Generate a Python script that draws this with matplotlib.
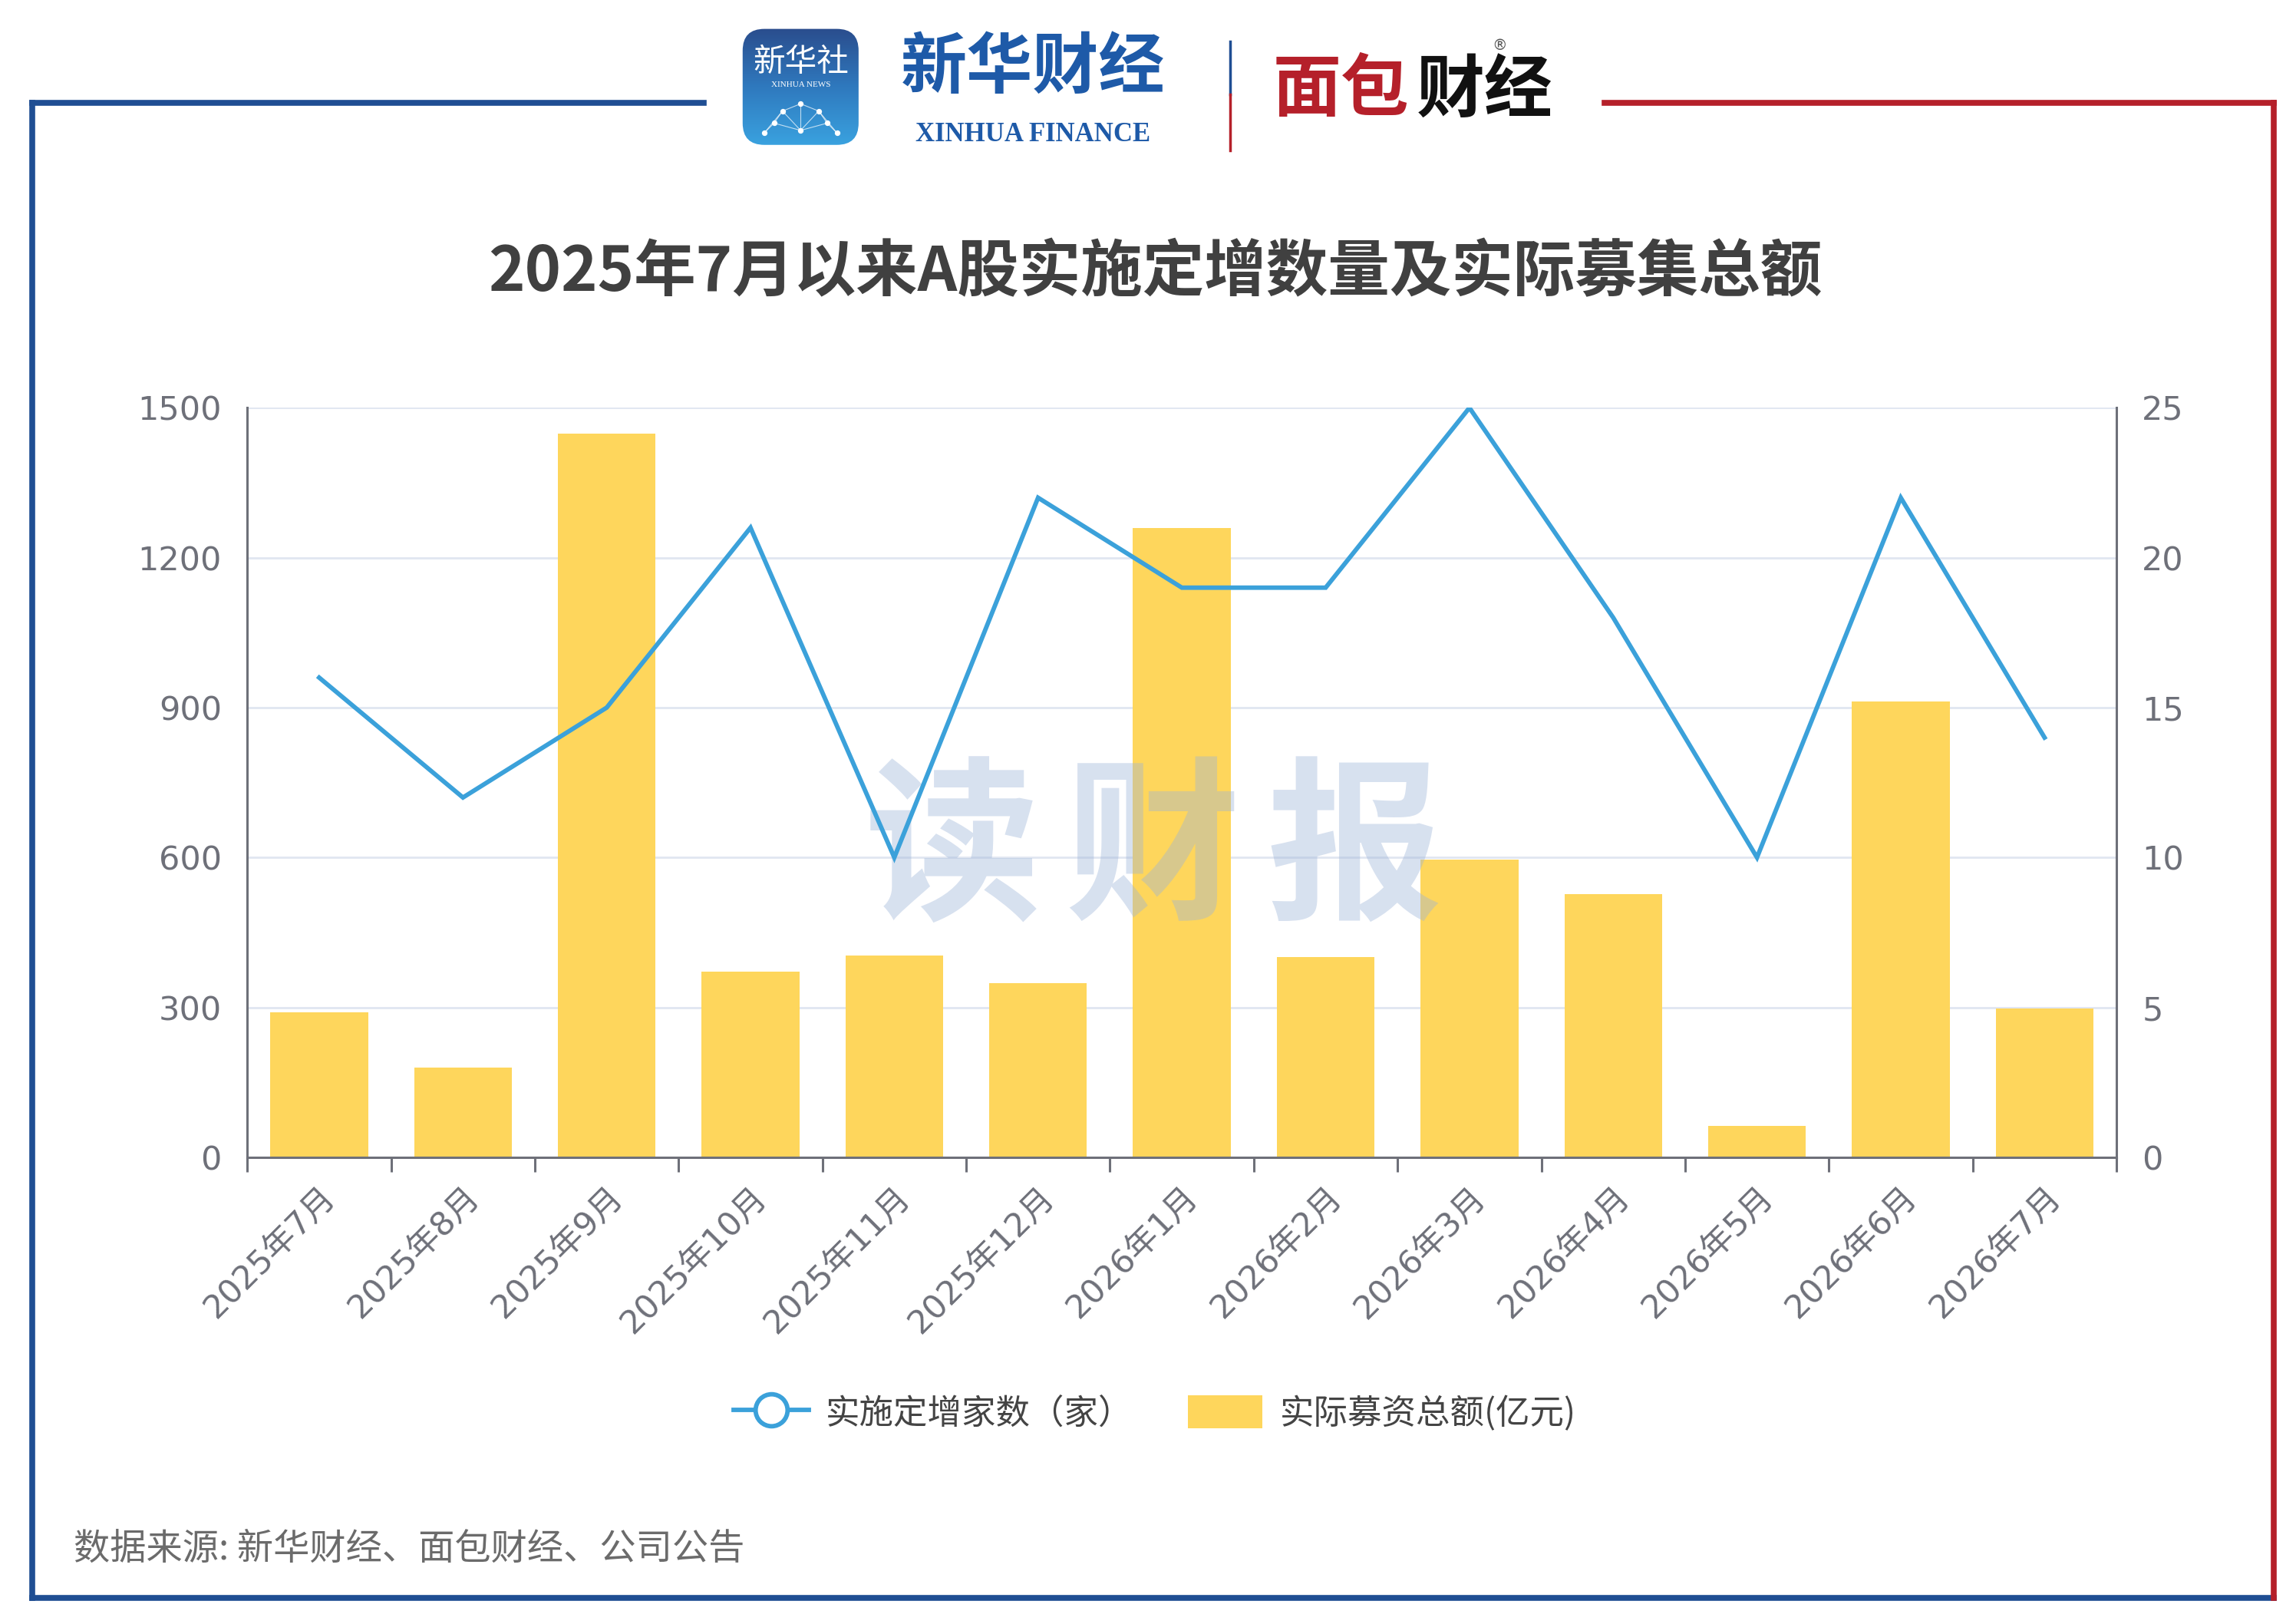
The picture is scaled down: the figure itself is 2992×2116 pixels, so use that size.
import numpy as np
import matplotlib.pyplot as plt
from matplotlib.lines import Line2D
from matplotlib.patches import Patch, FancyBboxPatch
from matplotlib.colors import LinearSegmentedColormap

plt.rcParams['font.family'] = ['Noto Sans CJK SC', 'DejaVu Sans']

months = ['2025年7月', '2025年8月', '2025年9月', '2025年10月', '2025年11月', '2025年12月',
          '2026年1月', '2026年2月', '2026年3月', '2026年4月', '2026年5月', '2026年6月', '2026年7月']
raised = [290, 180, 1449, 372, 403, 348, 1259, 400, 596, 527, 63, 912, 298]   # 实际募资总额(亿元)
counts = [16, 12, 15, 21, 10, 22, 19, 19, 25, 18, 10, 22, 14]                 # 实施定增家数（家）

BLUE = '#3BA1DA'
YELLOW = '#FED65C'
AXIS = '#6E7079'
GRID = '#E0E6F1'
NUMFONT = ['DejaVu Sans', 'Noto Sans CJK SC']

fig = plt.figure(figsize=(29.92, 21.16), dpi=100)

# frame
fw = 5.5
fig.add_artist(Line2D([0.0141, 0.3064], [0.9365, 0.9365], color='#1F4E93', lw=fw))
fig.add_artist(Line2D([0.0141, 0.0141], [0.9365, 0.0163], color='#1F4E93', lw=fw))
fig.add_artist(Line2D([0.0141, 0.9904], [0.0163, 0.0163], color='#1F4E93', lw=fw))
fig.add_artist(Line2D([0.6987, 0.9904], [0.9365, 0.9365], color='#B5202A', lw=fw))
fig.add_artist(Line2D([0.9904, 0.9904], [0.9365, 0.0163], color='#B5202A', lw=fw))

# logo: xinhua news badge
lax = fig.add_axes([0.3224, 0.9093, 0.0526, 0.0744])
grad = np.linspace(0, 1, 100).reshape(-1, 1)
cm = LinearSegmentedColormap.from_list('g', ['#2A4C8C', '#2F79BE', '#3AA3E0'])
im = lax.imshow(grad, cmap=cm, extent=[0, 1, 0, 1], aspect='auto', origin='upper')
clip = FancyBboxPatch((0.02, 0.02), 0.96, 0.96, boxstyle='round,pad=0,rounding_size=0.18',
                      transform=lax.transAxes, facecolor='none', edgecolor='none')
lax.add_patch(clip)
im.set_clip_path(clip)
lax.text(0.5, 0.70, '新华社', color='white', fontsize=30, ha='center', va='center', transform=lax.transAxes)
lax.text(0.5, 0.52, 'XINHUA NEWS', color='white', fontsize=8, ha='center', va='center',
         family='Liberation Serif', transform=lax.transAxes)
pts = np.array([[0.2, 0.12], [0.35, 0.3], [0.5, 0.14], [0.65, 0.3], [0.8, 0.12], [0.5, 0.36], [0.28, 0.2], [0.72, 0.2]])
for i in range(len(pts)):
    for j in range(i + 1, len(pts)):
        if np.hypot(*(pts[i] - pts[j])) < 0.25:
            lax.plot([pts[i][0], pts[j][0]], [pts[i][1], pts[j][1]], color='white', lw=0.8, alpha=0.7)
lax.scatter(pts[:, 0], pts[:, 1], s=18, color='white', zorder=3)
lax.set_xlim(0, 1)
lax.set_ylim(0, 1)
lax.axis('off')

fig.text(0.450, 0.958, '新华财经', color='#1E5AA8', fontsize=62, fontweight='bold',
         ha='center', va='center', style='italic')
fig.text(0.450, 0.917, 'XINHUA FINANCE', color='#1E5AA8', fontsize=25, fontweight='bold',
         ha='center', va='center', family='Liberation Serif')
fig.add_artist(Line2D([0.5359, 0.5359], [0.9746, 0.9420], color='#1F4E93', lw=2.5))
fig.add_artist(Line2D([0.5359, 0.5359], [0.9420, 0.9075], color='#B5202A', lw=2.5))
fig.text(0.5545, 0.944, '面包', color='#B5202A', fontsize=64, fontweight='bold', ha='left', va='center')
fig.text(0.6170, 0.944, '财经', color='#111111', fontsize=64, fontweight='bold', ha='left', va='center')
fig.text(0.6530, 0.972, '®', color='#555555', fontsize=14, ha='center', va='center', family='DejaVu Sans')

# title
fig.text(0.503, 0.832, '2025年7月以来A股实施定增数量及实际募集总额', fontsize=58, fontweight='bold',
         color='#404040', ha='center', va='center')

ax = fig.add_axes([0.1077, 0.2874, 0.8141, 0.4615])
ax2 = ax.twinx()

x = np.arange(len(months))
ax.bar(x, raised, width=0.68, color=YELLOW, zorder=2)
ax.set_xlim(-0.5, len(months) - 0.5)
ax.set_ylim(0, 1500)
ax.set_yticks(np.arange(0, 1501, 300))
ax.grid(axis='y', color=GRID, lw=2)
ax.set_axisbelow(True)

ax2.plot(x, counts, color=BLUE, lw=4.2, solid_joinstyle='miter', zorder=3)
ax2.set_ylim(0, 25)
ax2.set_yticks(np.arange(0, 26, 5))

for s in ['top', 'right']:
    ax.spines[s].set_visible(False)
for s in ['top', 'left', 'bottom']:
    ax2.spines[s].set_visible(False)
for sp in [ax.spines['left'], ax.spines['bottom'], ax2.spines['right']]:
    sp.set_color(AXIS)
    sp.set_linewidth(2.2)

ax.tick_params(axis='y', length=0, pad=24, labelsize=31, labelcolor=AXIS)
ax2.tick_params(axis='y', length=0, pad=24, labelsize=31, labelcolor=AXIS)
for lab in ax.get_yticklabels() + ax2.get_yticklabels():
    lab.set_family(NUMFONT)
ax.set_xticks(x)
ax.set_xticklabels(months, rotation=45, ha='right', va='top', rotation_mode='anchor', family=NUMFONT)
ax.tick_params(axis='x', which='major', length=0, pad=22, labelsize=31, labelcolor=AXIS)
ax.set_xticks(np.arange(-0.5, len(months), 1), minor=True)
ax.tick_params(axis='x', which='minor', length=14, width=2.2, color=AXIS, direction='out')

# watermark
for xc, ch in zip([0.415, 0.502, 0.590], '读财报'):
    ax.text(xc, 0.474, ch, transform=fig.transFigure, fontsize=165, fontweight='bold',
            color='#9DB4D8', alpha=0.4, ha='center', va='center', zorder=5)

handles = [Line2D([], [], color=BLUE, lw=4.2, marker='o', markersize=30, markerfacecolor='white',
                  markeredgecolor=BLUE, markeredgewidth=4.2),
           Patch(facecolor=YELLOW, edgecolor='none')]
fig.legend(handles, ['实施定增家数（家）', '实际募资总额(亿元)'], loc='center', bbox_to_anchor=(0.503, 0.1297),
           ncol=2, frameon=False, fontsize=32, labelcolor='#444444', handlelength=2.2, handleheight=1.1,
           handletextpad=0.5, columnspacing=1.6)

fig.text(0.032, 0.046, '数据来源: 新华财经、面包财经、公司公告', fontsize=34, color='#6B6B6B', ha='left', va='center')

fig.savefig('out.png', dpi=100)
